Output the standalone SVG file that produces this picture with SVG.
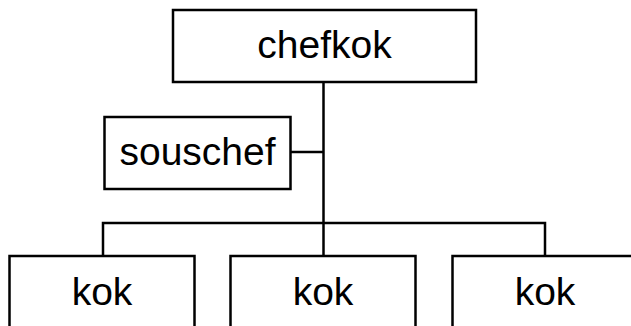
<svg xmlns="http://www.w3.org/2000/svg" width="631" height="326" viewBox="0 0 631 326">
<style>
.box{fill:#fff;stroke:#000;stroke-width:2.5}
.lbl{font-family:"Liberation Sans",Arial,sans-serif;font-size:39px;fill:#000;text-anchor:middle}
.conn{stroke:#000;stroke-width:2.5;fill:none}
</style>
<rect width="631" height="326" fill="#fff"/>
<g id="connectors">
<line class="conn" x1="323.5" y1="82" x2="323.5" y2="256"/>
<line class="conn" x1="290" y1="152" x2="323.5" y2="152"/>
<polyline class="conn" points="103,256 103,223 545,223 545,256"/>
</g>
<g id="chefkok">
<rect class="box" x="173" y="10" width="303" height="72"/>
<text class="lbl" x="324.5" y="58">chefkok</text>
</g>
<g id="souschef">
<rect class="box" x="104.5" y="117" width="186" height="72"/>
<text class="lbl" x="197.5" y="165">souschef</text>
</g>
<g id="kok1">
<rect class="box" x="9.5" y="256" width="185" height="74"/>
<text class="lbl" x="102" y="305">kok</text>
</g>
<g id="kok2">
<rect class="box" x="230.5" y="256" width="185" height="74"/>
<text class="lbl" x="323" y="305">kok</text>
</g>
<g id="kok3">
<rect class="box" x="452.5" y="256" width="185" height="74"/>
<text class="lbl" x="545" y="305">kok</text>
</g>
</svg>
